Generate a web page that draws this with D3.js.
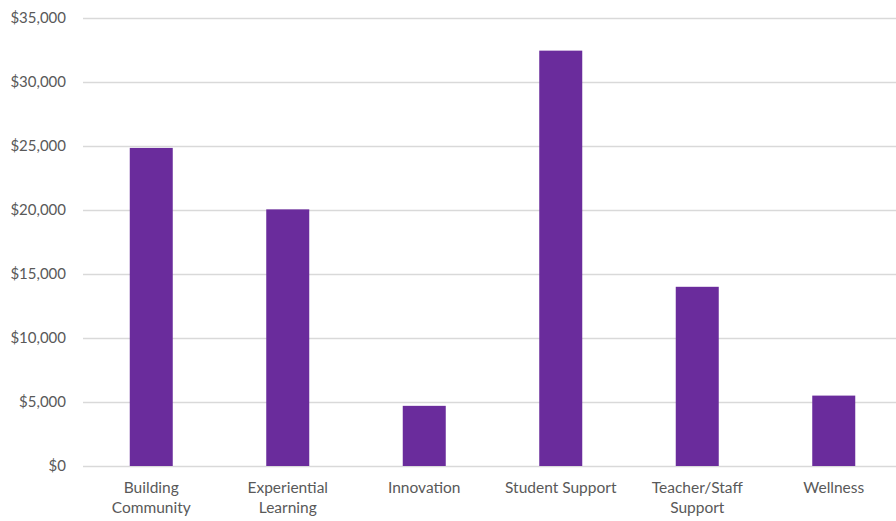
<!DOCTYPE html>
<html><head><meta charset="utf-8">
<script src="https://cdn.jsdelivr.net/npm/d3@7"></script>
<style>
html,body{margin:0;padding:0;background:#fff;overflow:hidden;}
svg{display:block;font-family:Lato,"Open Sans",sans-serif;}
</style></head>
<body>
<svg id="chart" width="896" height="521"></svg>
<script>
const categories = [["Building","Community"],["Experiential","Learning"],["Innovation"],["Student Support"],["Teacher/Staff","Support"],["Wellness"]];
const values = [24850, 20050, 4700, 32450, 14000, 5500];
const yTicks = [0,5000,10000,15000,20000,25000,30000,35000];

const svg = d3.select("#chart");
const margin = {left:83, right:-6, top:18, bottom:55};
const W = 896, H = 521;
const names = categories.map(c => c.join(" "));
const x = d3.scaleBand().domain(names).range([margin.left, W - margin.right]).paddingInner(0.685).paddingOuter(0.3425);
const y = d3.scaleLinear().domain([0,35000]).range([H - margin.bottom, margin.top]);

const fmt = d => "$" + d3.format(",")(d);

// gridlines
const yAxis = d3.axisLeft(y).tickValues(yTicks).tickFormat(fmt).tickSize(-(W - margin.left)).tickPadding(17);
const gy = svg.append("g").attr("transform", `translate(${margin.left},0)`).call(yAxis);
gy.select(".domain").remove();
gy.selectAll(".tick line").attr("stroke", "#d9d9d9").attr("stroke-width", 1.3);
gy.selectAll(".tick text").attr("fill", "#595959").attr("font-size", 15).attr("font-family", "Lato, sans-serif");

// bars
svg.append("g").selectAll("rect").data(values).join("rect")
  .attr("x", (d,i) => x(names[i]))
  .attr("width", x.bandwidth())
  .attr("y", d => y(d))
  .attr("height", d => y(0) - y(d))
  .attr("fill", "#6a2c9c");

// x labels
const xAxis = d3.axisBottom(x).tickSize(0).tickFormat(() => "");
const gx = svg.append("g").attr("transform", `translate(0,${y(0)})`).call(xAxis);
gx.select(".domain").remove();
gx.selectAll(".tick").each(function(d,i){
  const t = d3.select(this).append("text").attr("fill","#595959").attr("font-size",15.5)
    .attr("font-family","Lato, sans-serif").attr("text-anchor","middle");
  categories[i].forEach((line,j) => {
    t.append("tspan").attr("x",0).attr("y", 27 + j*20).text(line);
  });
});
</script>
</body></html>
